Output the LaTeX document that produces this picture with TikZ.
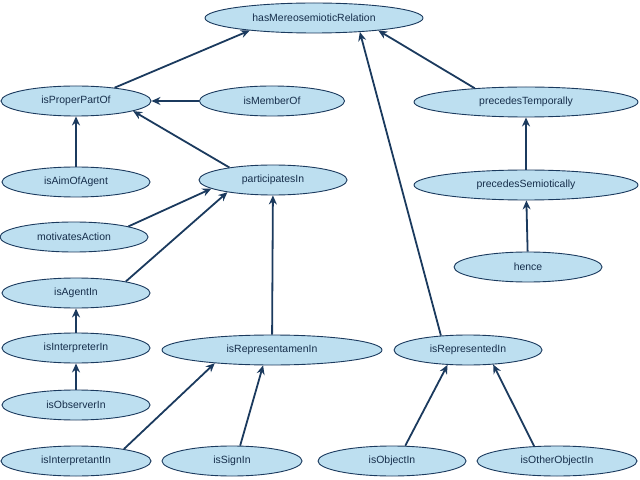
\documentclass[tikz,border=0pt]{standalone}
\usepackage{fontspec}
\setmainfont{Liberation Sans}
\usetikzlibrary{shapes.geometric,arrows.meta}
\definecolor{nfill}{HTML}{BDDFF0}
\definecolor{nline}{HTML}{1B3A5E}
\begin{document}
\begin{tikzpicture}[x=1bp,y=-1bp,
  n/.style={ellipse,draw=nline,line width=0.9bp,fill=nfill,minimum width=148bp,minimum height=30bp,inner sep=0pt,font=\fontsize{10.5}{12}\selectfont,text=nline!80!black},
  e/.style={draw=nline,line width=1.8bp,-{Stealth[length=9bp,width=8bp]}}]
\useasboundingbox (0,0) rectangle (640,480);
\node[n,minimum width=218bp] (hm) at (314,18) {hasMereosemioticRelation};
\node[n,minimum width=150bp] (ipp) at (76,101) {isProperPartOf};
\node[n,minimum width=145bp] (imo) at (272,101) {isMemberOf};
\node[n,minimum width=224bp] (pt) at (526,102) {precedesTemporally};
\node[n] (iaa) at (76,182) {isAimOfAgent};
\node[n] (pi) at (273,180) {participatesIn};
\node[n,minimum width=224bp] (ps) at (526,185) {precedesSemiotically};
\node[n] (ma) at (74,237) {motivatesAction};
\node[n] (he) at (528,267) {hence};
\node[n] (iag) at (76,293) {isAgentIn};
\node[n] (iin) at (76,348) {isInterpreterIn};
\node[n,minimum width=220bp] (irp) at (272,350) {isRepresentamenIn};
\node[n] (ird) at (468,350) {isRepresentedIn};
\node[n] (iob) at (76,405) {isObserverIn};
\node[n,minimum width=150bp] (iip) at (76,461) {isInterpretantIn};
\node[n,minimum width=140bp] (isi) at (232,461) {isSignIn};
\node[n] (ioi) at (392,461) {isObjectIn};
\node[n,minimum width=160bp] (ioo) at (557,461) {isOtherObjectIn};
\draw[e] (ipp.19) -- (hm.-169);
\draw[e] (imo) -- (ipp);
\draw[e] (pt.165) -- (hm.-11);
\draw[e] (iaa) -- (ipp);
\draw[e] (pi.164) -- (ipp.-10);
\draw[e] (ma.11) -- (pi.188);
\draw[e] (iag.13) -- (pi.195);
\draw[e] (irp) -- (pi);
\draw[e] (ps) -- (pt);
\draw[e] (he) -- (ps);
\draw[e] (ird.152) -- (hm.-17);
\draw[e] (iin) -- (iag);
\draw[e] (iob) -- (iin);
\draw[e] (iip.14) -- (irp.193);
\draw[e] (isi.62) -- (irp.240);
\draw[e] (ioi.49) -- (ird.216);
\draw[e] (ioo.147) -- (ird.330);
\end{tikzpicture}
\end{document}
